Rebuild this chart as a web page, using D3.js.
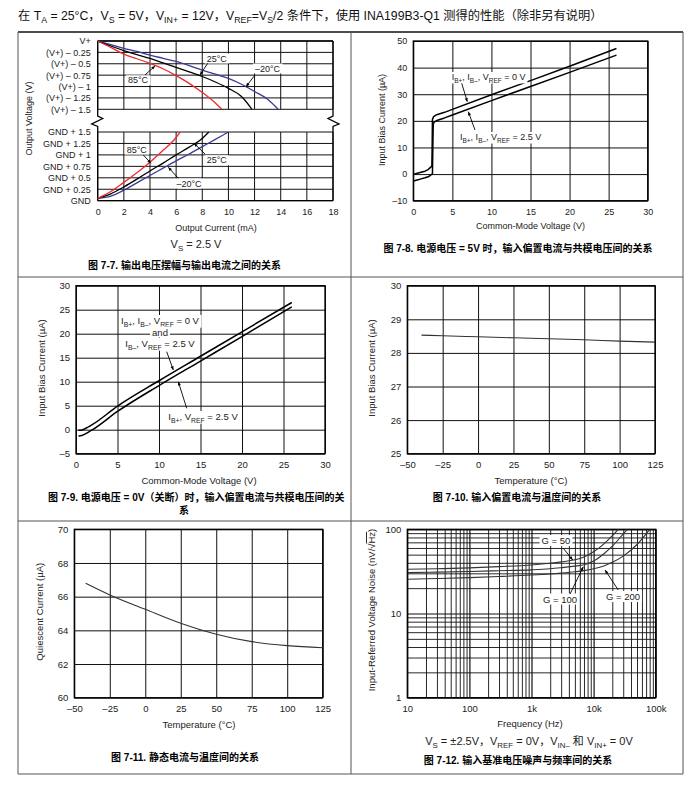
<!DOCTYPE html>
<html><head><meta charset="utf-8">
<script src="https://cdn.jsdelivr.net/npm/d3@7/dist/d3.min.js"></script>
<style>body{margin:0;background:#fff}</style>
</head><body><svg id="c" width="699" height="785"></svg>
<script>
// ---------------- DATA ----------------
// Fig 7-7: output swing vs output current
const swingXTicks = [0,2,4,6,8,10,12,14,16,18];
const swingSteps = [0,0.25,0.5,0.75,1,1.25,1.5];
const swingHighLabels = ["V+","(V+) – 0.25","(V+) – 0.5","(V+) – 0.75","(V+) – 1","(V+) – 1.25","(V+) – 1.5"];
const swingLowLabels = ["GND","GND + 0.25","GND + 0.5","GND + 0.75","GND + 1","GND + 1.25","GND + 1.5"];
const hiI85 = [0,1,2,3,4,5,6,7,8,9,9.5];
const hiV85 = [0,0.14,0.29,0.39,0.49,0.61,0.76,0.93,1.13,1.36,1.5];
const hiI25 = [0,1,2,3,4,5,6,7,8,9,10,11,11.8];
const hiV25 = [0,0.11,0.21,0.3,0.38,0.48,0.58,0.68,0.78,0.9,1.04,1.22,1.5];
const hiIm20 = [0,1,2,3,4,5,6,7,8,9,10,11,12,13,13.8];
const hiVm20 = [0,0.08,0.16,0.23,0.31,0.38,0.45,0.54,0.64,0.73,0.82,0.95,1.11,1.28,1.5];
const loI85 = [0,1,2,3,4,5,6,6.3];
const loV85 = [0.05,0.2,0.4,0.61,0.84,1.1,1.38,1.5];
const loI25 = [0,1,2,3,4,5,6,7,8,8.5];
const loV25 = [0.05,0.15,0.3,0.47,0.65,0.82,1.0,1.17,1.36,1.5];
const loIm20 = [0,1,2,3,4,5,6,7,8,9,10];
const loVm20 = [0.05,0.1,0.23,0.39,0.55,0.71,0.87,1.02,1.18,1.34,1.5];

// Fig 7-8: bias current vs common-mode, Vs = 5V
const cmTicks = [0,5,10,15,20,25,30];
const ib8Ticks = [-10,0,10,20,30,40,50];
const cm8Ref0 = [0,0.5,1,1.5,1.9,2.2,2.38,2.42,2.45,2.6,3,4,5,10,15,20,26];
const ib8Ref0 = [-0.1,0.3,0.7,1.1,1.7,2.5,3.0,12,20.5,21.6,22.3,23.2,24.3,29.8,35.1,40.5,47.2];
const cm8Ref25 = [0,0.5,1,1.5,2,2.2,2.4,2.45,2.5,2.55,2.7,3,4,5,10,15,20,26];
const ib8Ref25 = [-2.6,-2.2,-1.8,-1.4,-0.9,-0.4,0,0,10,18.8,19.6,20.1,21.1,22.2,27.6,32.9,38.2,44.7];

// Fig 7-9: bias current vs common-mode, Vs = 0V
const ib9Ticks = [-5,0,5,10,15,20,25,30];
const cm9 = [0.3,0.7,1.5,2,5,10,15,20,26];
const ib9Upper = [-0.1,-0.05,0.6,1.1,4.9,10.2,15.3,20.4,26.5];
const ib9Lower = [-1.3,-1.2,-0.5,0.0,3.8,9.2,14.3,19.4,25.6];

// Fig 7-10: bias current vs temperature
const tempTicks = [-50,-25,0,25,50,75,100,125];
const ib10Ticks = [25,26,27,28,29,30];
const temp10 = [-40,-25,0,25,50,75,100,125];
const ib10 = [28.53,28.51,28.48,28.45,28.42,28.39,28.35,28.32];

// Fig 7-11: quiescent current vs temperature
const iqTicks = [60,62,64,66,68,70];
const temp11 = [-42,-25,0,25,50,75,100,125];
const iq11 = [66.79,66.1,65.25,64.42,63.77,63.33,63.09,62.97];

// Fig 7-12: noise vs frequency
const freqMajor = [10,100,1000,10000,100000];
const freqLabels = ["10","100","1k","10k","100k"];
const noiseMajor = [1,10,100];
const noiseLabels = ["1","10","100"];
const fG50 = [10,30,100,300,1000,2000,3000,5000,7000,10000,15000,20000,25000];
const nG50 = [33.5,34,34.8,36,37.7,39.5,41,43.5,47,54,68,84,100];
const fG100 = [10,30,100,300,1000,2000,3000,5000,7000,10000,15000,20000,30000,35000];
const nG100 = [30.6,31,31.6,32.2,33,34,35,36.5,38,42,52,63,88,100];
const fG200 = [10,30,100,300,1000,2000,3000,5000,7000,10000,15000,20000,30000,50000,80000];
const nG200 = [25.5,26,26.7,27.5,28.6,29.5,30.2,31.3,32.3,34,37,40.5,48,66,100];

// ---------------- DRAW ----------------
const FONT = '"Liberation Sans", Arial, "Noto Sans CJK SC", sans-serif';
const svg = d3.select("#c").attr("font-family", FONT);
svg.append("rect").attr("width",699).attr("height",785).attr("fill","#fff");
const TXT = "#222";

function rich(sel, str, fs) {
  const parts = str.split(/(_\{[^}]*\})/).filter(p => p !== "");
  let shifted = false;
  parts.forEach(p => {
    if (p.startsWith("_{")) {
      sel.append("tspan").attr("font-size", fs*0.72).attr("dy", shifted ? 0 : fs*0.28).text(p.slice(2,-1));
      shifted = true;
    } else {
      const t = sel.append("tspan").text(p);
      if (shifted) { t.attr("dy", -fs*0.28); shifted = false; }
    }
  });
  return sel;
}
function text(g, x, y, str, fs, anchor, opts) {
  opts = opts || {};
  const t = g.append("text").attr("x", x).attr("y", y).attr("font-size", fs)
    .attr("text-anchor", anchor || "middle").attr("fill", opts.fill || TXT);
  if (opts.bold) t.attr("font-weight", "bold");
  rich(t, str, fs);
  if (opts.box) {
    const b = t.node().getBBox();
    g.insert("rect", () => t.node()).attr("x", b.x-2).attr("y", b.y).attr("width", b.width+4)
      .attr("height", b.height).attr("fill", "#fff");
  }
  return t;
}
function vtitle(g, x, y, fs) {
  return g.append("text").attr("transform", `translate(${x},${y}) rotate(-90)`)
    .attr("font-size", fs).attr("text-anchor", "middle").attr("fill", TXT);
}
function pointer(g, x1, y1, x2, y2) {
  g.append("line").attr("x1",x1).attr("y1",y1).attr("x2",x2).attr("y2",y2)
    .attr("stroke","#000").attr("stroke-width",0.9);
  const a = Math.atan2(y2-y1, x2-x1), L = 4, w = 0.4;
  g.append("path").attr("d", `M${x2},${y2}L${x2-L*Math.cos(a-w)},${y2-L*Math.sin(a-w)}L${x2-L*Math.cos(a+w)},${y2-L*Math.sin(a+w)}Z`).attr("fill","#000");
}
function styleAxis(a, fs) {
  a.attr("font-family", FONT).attr("font-size", fs || 9);
  a.select(".domain").remove();
  a.selectAll("line").attr("stroke", "#111").attr("stroke-width", 1);
  a.selectAll("text").attr("fill", TXT);
}
function axes(g, x, y, o) {
  const [y0, y1] = y.range(), [x0, x1] = x.range();
  const ax = g.append("g").attr("transform", `translate(0,${y0})`)
    .call(d3.axisBottom(x).tickValues(o.xT).tickFormat(o.xF).tickSize(-(y0-y1)).tickPadding(o.xp || 8));
  const ay = g.append("g").attr("transform", `translate(${x0},0)`)
    .call(d3.axisLeft(y).tickValues(o.yT).tickFormat(o.yF).tickSize(-(x1-x0)).tickPadding(6));
  styleAxis(ax, o.fs); styleAxis(ay, o.fs);
  if (o.minorX) ax.selectAll("line").attr("stroke-width", d => o.xMaj.includes(d) ? 1.2 : 0.9);
  if (o.minorY) ay.selectAll("line").attr("stroke-width", d => o.yMaj.includes(d) ? 1.2 : 0.9);
  g.append("rect").attr("x", x0).attr("y", y1).attr("width", x1-x0).attr("height", y0-y1)
    .attr("fill", "none").attr("stroke", "#000").attr("stroke-width", 1.3);
}
const zip = (a, b) => a.map((v, i) => [v, b[i]]);
function curve(g, x, y, xs, ys, color, w, c) {
  g.append("path").datum(zip(xs, ys)).attr("fill", "none").attr("stroke", color).attr("stroke-width", w)
    .attr("stroke-linejoin","round")
    .attr("d", d3.line().x(d => x(d[0])).y(d => y(d[1])).curve(c || d3.curveMonotoneX));
}

// header
text(svg, 18, 19.5, "在 T_{A} = 25°C，V_{S} = 5V，V_{IN+} = 12V，V_{REF}=V_{S}/2 条件下，使用 INA199B3-Q1 测得的性能（除非另有说明）", 12.25, "start", {fill:"#111"});

// cell borders
const bl = svg.append("g").attr("stroke", "#555").attr("stroke-width", 1);
bl.append("line").attr("x1",18).attr("x2",683).attr("y1",32).attr("y2",32).attr("stroke","#111").attr("stroke-width",1.5);
[[18,32,18,774],[351,32,351,774],[683,32,683,774],[18,277,683,277],[18,521,683,521],[18,774,683,774]]
  .forEach(l => bl.append("line").attr("x1",l[0]).attr("y1",l[1]).attr("x2",l[2]).attr("y2",l[3]));

// ===== Fig 7-7 =====
{
  const g = svg.append("g");
  const L = 97.7, R = 333, tU = 41, bU = 109.3, tL = 132, bL = 200.7;
  const x = d3.scaleLinear().domain([0,18]).range([L,R]);
  const yU = d3.scaleLinear().domain([0,1.5]).range([tU,bU]);
  const yL = d3.scaleLinear().domain([0,1.5]).range([bL,tL]);
  const grid = g.append("g").attr("stroke","#111").attr("stroke-width",1);
  swingXTicks.forEach(v => {
    grid.append("line").attr("x1",x(v)).attr("x2",x(v)).attr("y1",tU).attr("y2",bU);
    grid.append("line").attr("x1",x(v)).attr("x2",x(v)).attr("y1",tL).attr("y2",bL);
  });
  swingSteps.forEach(v => {
    grid.append("line").attr("x1",L).attr("x2",R).attr("y1",yU(v)).attr("y2",yU(v));
    grid.append("line").attr("x1",L).attr("x2",R).attr("y1",yL(v)).attr("y2",yL(v));
  });
  const fr = g.append("g").attr("stroke","#000").attr("stroke-width",1.3).attr("fill","none");
  fr.append("line").attr("x1",L).attr("x2",R).attr("y1",tU).attr("y2",tU);
  fr.append("line").attr("x1",L).attr("x2",R).attr("y1",bL).attr("y2",bL);
  fr.append("path").attr("d",`M${L},${tU}V116L${L+5},118.5L${L-6},124L${L},126.5V${bL}`);
  fr.append("path").attr("d",`M${R},${tU}V116L${R-5},118.5L${R+6},124L${R},126.5V${bL}`);
  const ay1 = g.append("g").attr("transform",`translate(${L},0)`).call(d3.axisLeft(yU).tickValues(swingSteps).tickFormat((d,i)=>swingHighLabels[i]).tickSize(0).tickPadding(7));
  const ay2 = g.append("g").attr("transform",`translate(${L},0)`).call(d3.axisLeft(yL).tickValues(swingSteps).tickFormat((d,i)=>swingLowLabels[i]).tickSize(0).tickPadding(7));
  const ax = g.append("g").attr("transform",`translate(0,${bL})`).call(d3.axisBottom(x).tickValues(swingXTicks).tickSize(0).tickPadding(8));
  [ay1,ay2,ax].forEach(a => styleAxis(a, 9));
  const RED = "#ee2a2e", BLUE = "#3a3a98";
  curve(g, x, yU, hiIm20, hiVm20, BLUE, 1.3);
  curve(g, x, yU, hiI25, hiV25, "#000", 1.3);
  curve(g, x, yU, hiI85, hiV85, RED, 1.3);
  curve(g, x, yL, loIm20, loVm20, BLUE, 1.3);
  curve(g, x, yL, loI25, loV25, "#000", 1.3);
  curve(g, x, yL, loI85, loV85, RED, 1.3);
  text(g, 216.7, 61.5, "25°C", 9, "middle", {box:true});
  text(g, 267.5, 71.5, "–20°C", 9, "middle", {box:true});
  text(g, 138, 83.3, "85°C", 9, "middle", {box:true});
  text(g, 136.7, 152.5, "85°C", 9, "middle", {box:true});
  text(g, 216.7, 163.3, "25°C", 9, "middle", {box:true});
  text(g, 189, 186.5, "–20°C", 9, "middle", {box:true});
  pointer(g, 207.7, 63.3, 200, 75);
  pointer(g, 255, 75, 246, 86.7);
  pointer(g, 145, 75, 155, 66);
  pointer(g, 143.3, 155, 151, 163.3);
  pointer(g, 205, 154, 194, 143.3);
  pointer(g, 178.3, 178.3, 168.3, 167.3);
  text(g, 216, 231, "Output Current (mA)", 9);
  vtitle(g, 32, 118.5, 9).text("Output Voltage (V)");
  text(g, 196, 248, "V_{S} = 2.5 V", 11);
  text(g, 184.5, 269, "图 7-7. 输出电压摆幅与输出电流之间的关系", 10, "middle", {bold:true, fill:"#000"});
}

// ===== Fig 7-8 =====
{
  const g = svg.append("g");
  const x = d3.scaleLinear().domain([0,30]).range([413.3,647.7]);
  const y = d3.scaleLinear().domain([-10,50]).range([200.7,41]);
  axes(g, x, y, {xT: cmTicks, yT: ib8Ticks, xF: d => d, yF: d => d < 0 ? "–" + (-d) : d});
  curve(g, x, y, cm8Ref0, ib8Ref0, "#000", 1.5, d3.curveLinear);
  curve(g, x, y, cm8Ref25, ib8Ref25, "#000", 1.5, d3.curveLinear);
  text(g, 451.7, 80, "I_{B+}, I_{B–}, V_{REF} = 0 V", 9, "start", {box:true});
  text(g, 460, 140, "I_{B+}, I_{B–}, V_{REF} = 2.5 V", 9, "start", {box:true});
  pointer(g, 461.7, 83.3, 467.3, 101.7);
  pointer(g, 475, 130, 468.3, 111.7);
  text(g, 530.5, 229, "Common-Mode Voltage (V)", 9);
  vtitle(g, 385, 120, 9).text("Input Bias Current (µA)");
  text(g, 518, 252, "图 7-8. 电源电压 = 5V 时，输入偏置电流与共模电压间的关系", 10, "middle", {bold:true, fill:"#000"});
}

// ===== Fig 7-9 =====
{
  const g = svg.append("g");
  const x = d3.scaleLinear().domain([0,30]).range([76,325]);
  const y = d3.scaleLinear().domain([-5,30]).range([453.7,285.7]);
  axes(g, x, y, {xT: cmTicks, yT: ib9Ticks, xF: d => d, yF: d => d < 0 ? "–" + (-d) : d, fs: 9.5});
  curve(g, x, y, cm9, ib9Upper, "#000", 1.5);
  curve(g, x, y, cm9, ib9Lower, "#000", 1.5);
  text(g, 160, 324, "I_{B+}, I_{B–}, V_{REF} = 0 V", 9.5, "middle", {box:true});
  text(g, 160, 335.5, "and", 9.5, "middle", {box:true});
  text(g, 160, 347, "I_{B–}, V_{REF} = 2.5 V", 9.5, "middle", {box:true});
  text(g, 203, 420, "I_{B+}, V_{REF} = 2.5 V", 9.5, "middle", {box:true});
  pointer(g, 166.7, 351.7, 173.3, 370);
  pointer(g, 186.7, 408.3, 178.3, 381.7);
  text(g, 199, 483.5, "Common-Mode Voltage (V)", 9.5);
  vtitle(g, 45, 368, 9.5).text("Input Bias Current (µA)");
  text(g, 48, 500.5, "图 7-9. 电源电压 = 0V（关断）时，输入偏置电流与共模电压间的关", 10, "start", {bold:true, fill:"#000"});
  text(g, 184, 514, "系", 10, "middle", {bold:true, fill:"#000"});
}

// ===== Fig 7-10 =====
{
  const g = svg.append("g");
  const x = d3.scaleLinear().domain([-50,125]).range([407.3,655]);
  const y = d3.scaleLinear().domain([25,30]).range([453.7,285.7]);
  axes(g, x, y, {xT: tempTicks, yT: ib10Ticks, xF: d => d < 0 ? "–" + (-d) : d, yF: d => d, fs: 9.5});
  curve(g, x, y, temp10, ib10, "#333", 1.1);
  text(g, 531, 483.5, "Temperature (°C)", 9.5);
  vtitle(g, 375, 368, 9.5).text("Input Bias Current (µA)");
  text(g, 517, 500.5, "图 7-10. 输入偏置电流与温度间的关系", 10, "middle", {bold:true, fill:"#000"});
}

// ===== Fig 7-11 =====
{
  const g = svg.append("g");
  const x = d3.scaleLinear().domain([-50,125]).range([74.3,322.7]);
  const y = d3.scaleLinear().domain([60,70]).range([697.7,529.3]);
  axes(g, x, y, {xT: tempTicks, yT: iqTicks, xF: d => d < 0 ? "–" + (-d) : d, yF: d => d, fs: 9.5});
  curve(g, x, y, temp11, iq11, "#333", 1.1);
  text(g, 199, 727.5, "Temperature (°C)", 9.5);
  vtitle(g, 43, 611.7, 9.5).text("Quiescent Current (µA)");
  text(g, 185, 760.5, "图 7-11. 静态电流与温度间的关系", 10, "middle", {bold:true, fill:"#000"});
}

// ===== Fig 7-12 =====
{
  const g = svg.append("g");
  const x = d3.scaleLog().domain([10,100000]).range([407.3,655.7]);
  const y = d3.scaleLog().domain([1,100]).range([697.7,529.3]);
  const xT = x.ticks(), yT = y.ticks();
  axes(g, x, y, {xT, yT, xF: d => { const i = freqMajor.indexOf(d); return i >= 0 ? freqLabels[i] : ""; },
    yF: d => { const i = noiseMajor.indexOf(d); return i >= 0 ? noiseLabels[i] : ""; },
    fs: 9.5, minorX: true, minorY: true, xMaj: freqMajor, yMaj: noiseMajor});
  svg.append("clipPath").attr("id","clip12").append("rect")
    .attr("x",407.3).attr("y",529.3).attr("width",248.4).attr("height",168.4);
  const cg = g.append("g").attr("clip-path","url(#clip12)");
  curve(cg, x, y, fG50, nG50, "#333", 1.1);
  curve(cg, x, y, fG100, nG100, "#333", 1.1);
  curve(cg, x, y, fG200, nG200, "#333", 1.1);
  text(g, 556, 544, "G = 50", 9.5, "middle", {box:true});
  text(g, 560, 602.5, "G = 100", 9.5, "middle", {box:true});
  text(g, 623, 600, "G = 200", 9.5, "middle", {box:true});
  pointer(g, 563.3, 548.3, 572.7, 560);
  pointer(g, 570, 594, 583.3, 566.7);
  pointer(g, 618.3, 590, 605, 570);
  text(g, 530, 727, "Frequency (Hz)", 9.5);
  const t = vtitle(g, 375, 610, 9.5);
  t.append("tspan").text("Input-Referred Voltage Noise (nV/√");
  t.append("tspan").style("text-decoration","overline").text("Hz");
  t.append("tspan").text(")");
  text(g, 529, 745, "V_{S} = ±2.5V，V_{REF} = 0V，V_{IN–} 和 V_{IN+} = 0V", 11, "middle");
  text(g, 518, 763.5, "图 7-12. 输入基准电压噪声与频率间的关系", 10, "middle", {bold:true, fill:"#000"});
}
</script></body></html>
